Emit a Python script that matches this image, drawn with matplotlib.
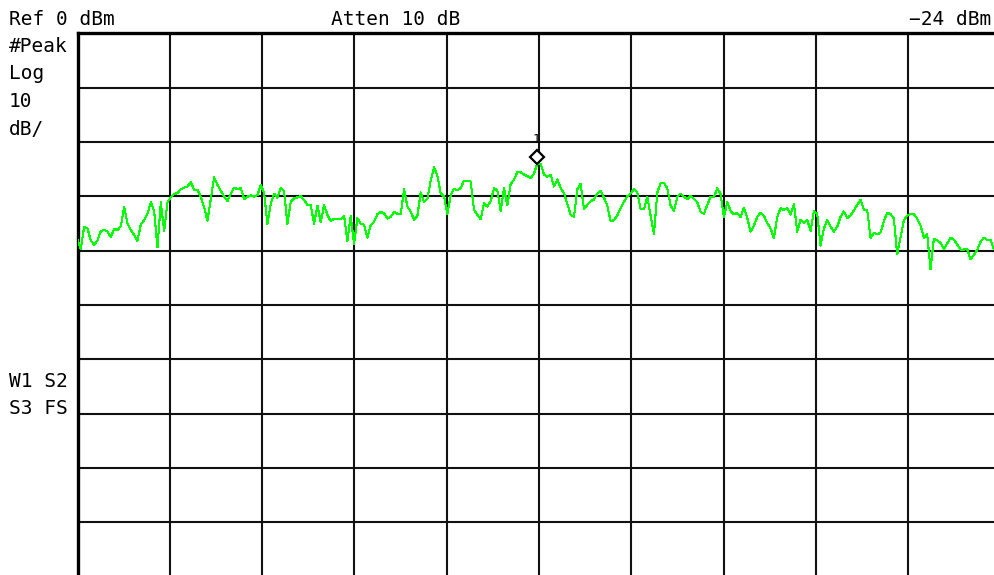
import matplotlib
matplotlib.use("Agg")
import matplotlib.pyplot as plt
import matplotlib.transforms as mtransforms
import numpy as np

# trace level in dBm, one value per sweep point (left to right)
trace_db = [
    -37.9, -39.7, -35.6, -35.9, -38.2, -38.9, -38.1, -36.4, -36.2, -36.5,
    -37.5, -36.0, -36.2, -35.5, -32.0, -35.0, -36.2, -37.1, -38.2, -35.2,
    -34.4, -33.2, -31.1, -32.7, -39.4, -31.1, -36.4, -31.1, -30.2, -29.6,
    -29.4, -28.7, -28.4, -28.2, -27.4, -28.8, -28.8, -30.1, -32.0, -34.5,
    -30.5, -26.5, -27.9, -29.0, -30.0, -30.9, -29.5, -28.4, -28.7, -28.5,
    -30.5, -30.1, -29.8, -30.1, -29.8, -27.9, -29.4, -35.1, -31.4, -29.5,
    -30.3, -28.4, -29.1, -35.1, -31.0, -30.4, -30.2, -30.0, -30.7, -31.6,
    -31.6, -35.1, -31.7, -34.8, -31.6, -33.4, -34.6, -34.1, -34.1, -34.2,
    -33.6, -38.2, -33.6, -38.8, -34.0, -35.1, -35.2, -37.6, -35.3, -34.7,
    -33.3, -32.9, -33.1, -34.1, -33.8, -32.9, -33.2, -33.3, -28.7, -31.9,
    -32.8, -34.3, -33.6, -29.3, -31.0, -30.5, -27.1, -24.7, -26.2, -29.5,
    -30.0, -33.3, -29.8, -28.6, -28.9, -28.5, -27.1, -27.1, -27.3, -32.5,
    -33.4, -34.2, -31.3, -31.9, -30.9, -28.5, -28.9, -32.7, -28.5, -31.7,
    -27.7, -27.0, -25.5, -25.6, -26.0, -26.3, -26.7, -25.8, -24.0,
    -24.0, -26.0, -26.4, -26.0, -28.2, -26.9, -28.5, -29.4, -31.4, -33.4,
    -33.8, -28.7, -27.7, -32.4, -31.6, -30.9, -30.6, -29.5, -29.0, -30.3,
    -31.7, -34.6, -34.4, -33.5, -32.2, -31.0, -30.0, -29.5, -28.6, -29.3,
    -32.3, -32.4, -30.1, -33.6, -37.0, -29.3, -27.6, -27.5, -28.5, -31.7,
    -32.7, -30.1, -29.5, -30.1, -30.5, -29.9, -30.5, -31.1, -32.9, -33.2,
    -31.6, -30.1, -30.2, -28.5, -29.6, -33.9, -31.0, -32.7, -33.3, -33.1,
    -33.8, -32.1, -34.0, -36.5, -35.4, -33.8, -33.0, -33.6, -34.9,
    -35.9, -37.7, -33.8, -32.2, -32.5, -32.2, -33.4, -31.4, -36.5, -34.3,
    -34.9, -34.3, -36.4, -32.7, -33.2, -39.1, -35.9, -34.4, -35.6, -36.5,
    -35.6, -33.8, -32.8, -34.0, -33.5, -32.6, -31.6, -30.6, -32.5, -32.5,
    -37.7, -36.7, -37.0, -36.7, -34.6, -33.0, -33.3, -34.1, -40.7, -37.6,
    -34.4, -33.6, -33.2, -33.3, -34.1, -35.4, -37.6, -37.0, -43.4, -37.8,
    -38.1, -38.6, -39.7, -38.7, -37.6, -38.0, -38.9, -39.8, -39.8, -39.7,
    -41.6, -40.8, -39.9, -38.4, -37.6, -38.0, -38.0, -39.7,
]
n_sweep = 278          # sweep points over 10 divisions (last ones off screen)
ref_level = 0          # dBm
db_per_div = 10
marker_db = -24

x = np.arange(len(trace_db)) * 10 / (n_sweep - 1)

W, H = 995, 575
fig = plt.figure(figsize=(W / 100, H / 100), dpi=100)
fig.patch.set_facecolor("white")

left, right, top, bottom = 77.5, 1000.5, 33.3, 576.6
ax = fig.add_axes([left / W, 1 - bottom / H, (right - left) / W, (bottom - top) / H])
ax.set_xlim(0, 10)
ax.set_ylim(ref_level - 10 * db_per_div, ref_level)
ax.set_xticks(np.arange(0, 11))
ax.set_yticks(np.arange(ref_level - 10 * db_per_div, ref_level + 1, db_per_div))
ax.tick_params(length=0, labelbottom=False, labelleft=False)
ax.grid(True, color="#111111", linewidth=1.5)
ax.set_axisbelow(True)
for side in ["right", "bottom"]:
    ax.spines[side].set_visible(False)
for side in ["left", "top"]:
    ax.spines[side].set_linewidth(2.4)
    ax.spines[side].set_color("black")

ax.plot(x, trace_db, color="#00ff00", linewidth=0.75, antialiased=False, zorder=3)

# marker 1 on the peak, drawn just above the trace
peak = int(np.argmax(trace_db))
up = mtransforms.offset_copy(ax.transData, fig=fig, x=0, y=7, units="dots")
ax.plot(x[peak], marker_db, marker="D", markersize=7, markerfacecolor="white",
        markeredgecolor="black", markeredgewidth=1.6, transform=up, zorder=4)
lab = mtransforms.offset_copy(ax.transData, fig=fig, x=-1, y=24, units="dots")
ax.text(x[peak], marker_db, "1", transform=lab, ha="center", va="center",
        fontsize=9, family="DejaVu Sans Mono", zorder=4)

font = dict(family="DejaVu Sans Mono", fontsize=14, color="black")


def px(xp, yp):
    return xp / W, 1 - yp / H


fig.text(*px(9, 25), "Ref 0 dBm", ha="left", va="baseline", **font)
fig.text(*px(331, 25), "Atten 10 dB", ha="left", va="baseline", **font)
fig.text(*px(991, 25), "\u221224 dBm", ha="right", va="baseline", **font)
for label, yb in [("#Peak", 52), ("Log", 79), ("10", 107), ("dB/", 135)]:
    fig.text(*px(9, yb), label, ha="left", va="baseline", **font)
fig.text(*px(9, 387), "W1 S2", ha="left", va="baseline", **font)
fig.text(*px(9, 414), "S3 FS", ha="left", va="baseline", **font)

fig.savefig("out.png", dpi=100)
